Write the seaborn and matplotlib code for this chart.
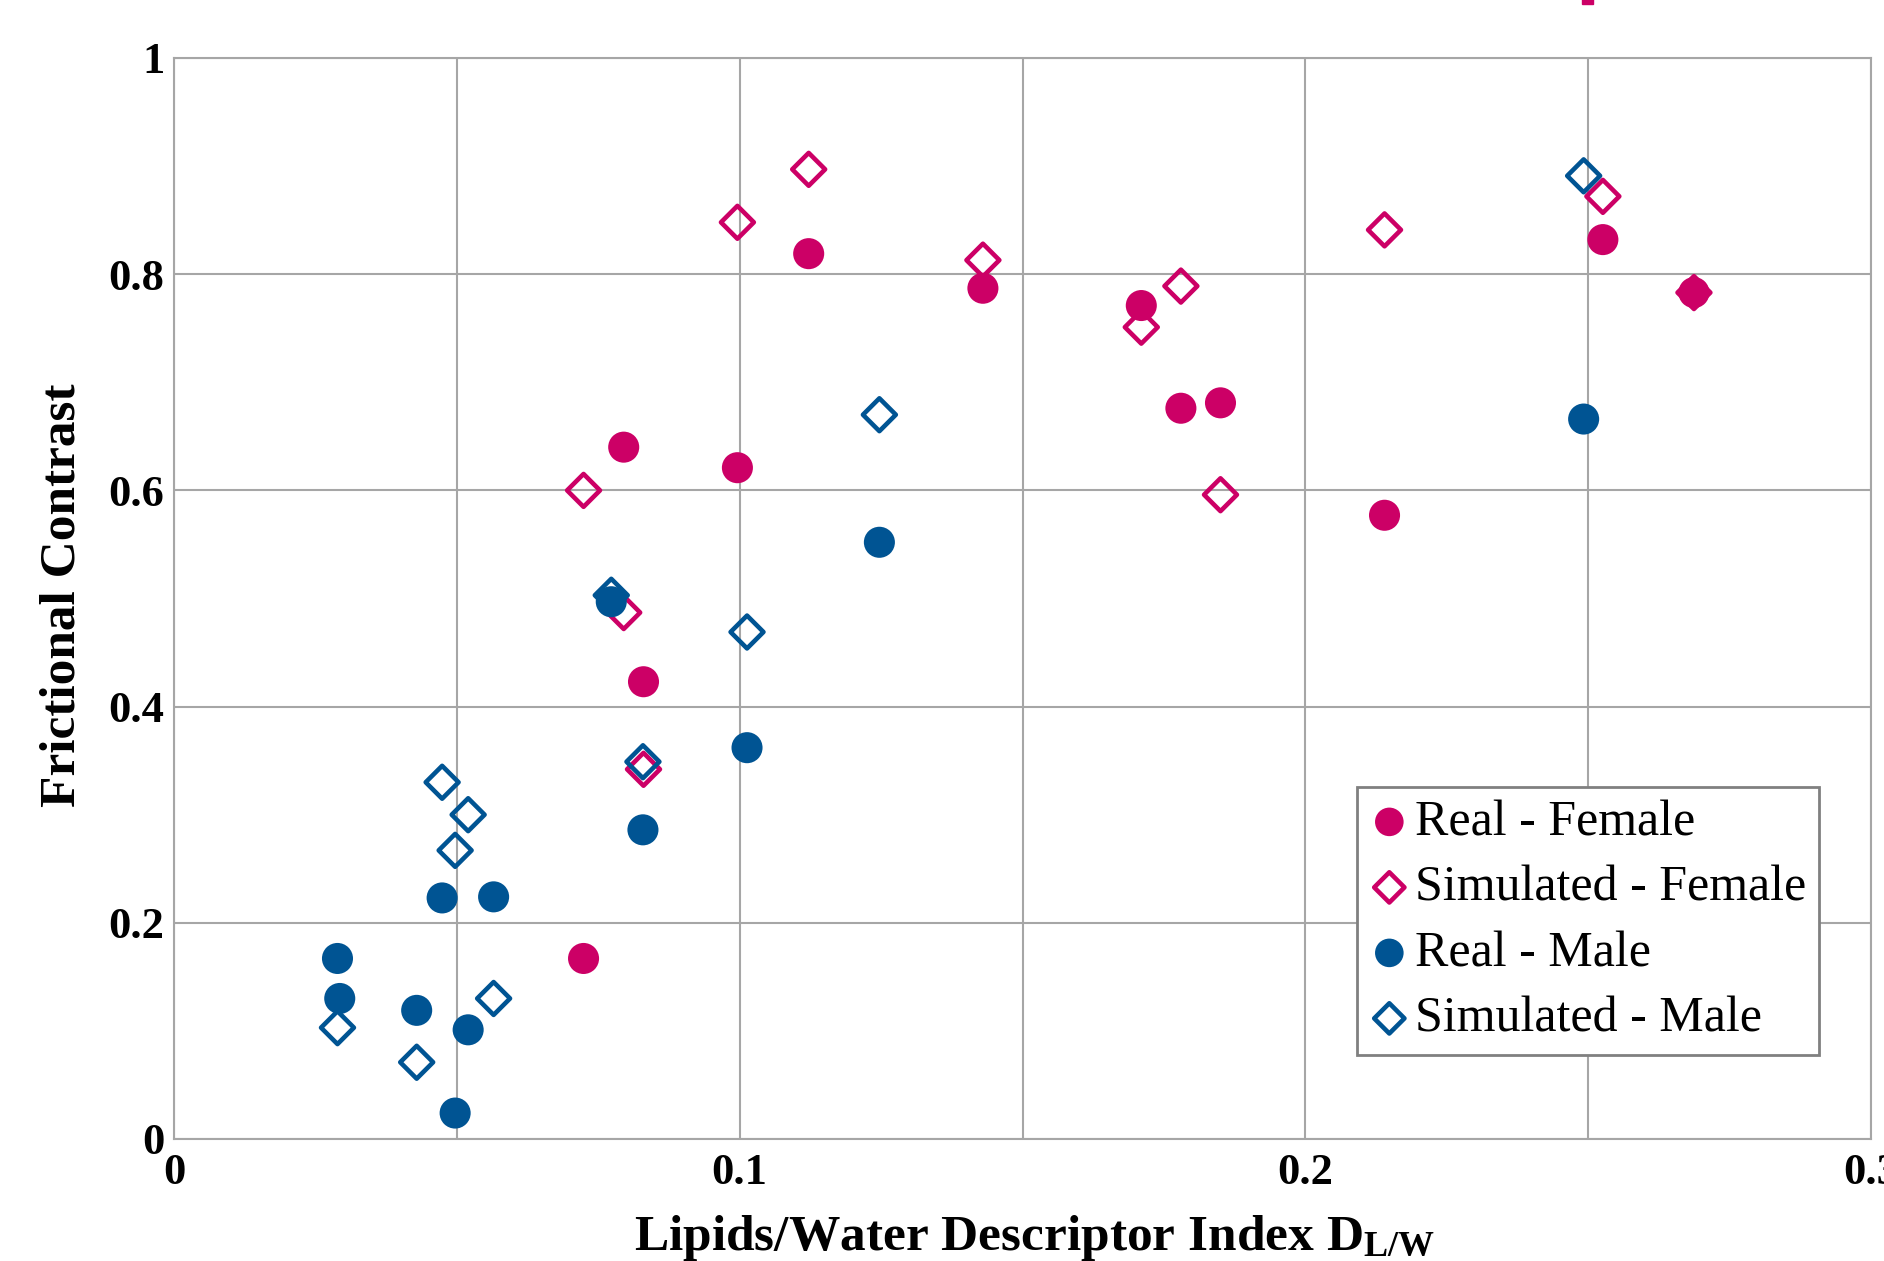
# Frictional contrast vs lipids/water descriptor index, real vs simulated, by sex.
import numpy as np
import pandas as pd
import matplotlib
matplotlib.use("Agg")
import matplotlib.pyplot as plt
from matplotlib.ticker import MultipleLocator, FixedLocator, FixedFormatter
from matplotlib.patches import Rectangle
import seaborn as sns

PINK = "#CC0066"
BLUE = "#005493"
GRID = "#A6A6A6"

# Values.
real_female_x = [0.0724, 0.0795, 0.0996, 0.0830, 0.1122, 0.1430, 0.1710, 0.1780, 0.1850, 0.2140, 0.2526, 0.2687]
real_female_y = [0.167, 0.640, 0.621, 0.423, 0.819, 0.787, 0.771, 0.676, 0.681, 0.577, 0.832, 0.783]

sim_female_x = [0.0724, 0.0795, 0.0830, 0.0996, 0.1122, 0.1430, 0.1710, 0.1780, 0.1850, 0.2140, 0.2526, 0.2687]
sim_female_y = [0.600, 0.487, 0.342, 0.848, 0.897, 0.813, 0.751, 0.789, 0.596, 0.841, 0.872, 0.783]

real_male_x = [0.0289, 0.0293, 0.0429, 0.0474, 0.0497, 0.0520, 0.0565, 0.0773, 0.0829, 0.1013, 0.1247, 0.2492]
real_male_y = [0.167, 0.130, 0.119, 0.223, 0.024, 0.101, 0.224, 0.497, 0.286, 0.362, 0.552, 0.666]

sim_male_x = [0.0289, 0.0429, 0.0474, 0.0497, 0.0520, 0.0565, 0.0773, 0.0829, 0.1013, 0.1247, 0.2492]
sim_male_y = [0.103, 0.071, 0.330, 0.267, 0.300, 0.130, 0.503, 0.349, 0.469, 0.670, 0.891]

x_ticks = [0, 0.1, 0.2, 0.3]
x_tick_labels = ["0", "0.1", "0.2", "0.3"]
y_ticks = [0, 0.2, 0.4, 0.6, 0.8, 1.0]
y_tick_labels = ["0", "0.2", "0.4", "0.6", "0.8", "1"]

sns.set_style("white")
plt.rcParams["font.family"] = ["Liberation Serif", "DejaVu Serif"]
plt.rcParams["text.color"] = "black"
plt.rcParams["axes.labelcolor"] = "black"
plt.rcParams["xtick.color"] = "black"
plt.rcParams["ytick.color"] = "black"
plt.rcParams["mathtext.fontset"] = "custom"
plt.rcParams["mathtext.bf"] = "Liberation Serif:bold"
plt.rcParams["mathtext.rm"] = "Liberation Serif:bold"
plt.rcParams["mathtext.it"] = "Liberation Serif:bold"

fig = plt.figure(figsize=(18.84, 12.61), dpi=100)
ax = fig.add_axes([0.09236, 0.09675, 0.90074, 0.85726])

series = [
    ("Real - Female", real_female_x, real_female_y, PINK, "o"),
    ("Simulated - Female", sim_female_x, sim_female_y, PINK, "D"),
    ("Real - Male", real_male_x, real_male_y, BLUE, "o"),
    ("Simulated - Male", sim_male_x, sim_male_y, BLUE, "D"),
]

for name, xs, ys, col, mk in series:
    df = pd.DataFrame({"x": xs, "y": ys})
    if mk == "o":
        sns.scatterplot(data=df, x="x", y="y", ax=ax, marker="o", s=500,
                        color=col, edgecolor="none", linewidth=0,
                        label=name, zorder=3)
    else:
        sns.scatterplot(data=df, x="x", y="y", ax=ax, marker="D", s=280,
                        color=col, facecolor="none", edgecolor=col,
                        linewidth=3.3, label=name, zorder=3)

ax.set_xlim(0, 0.3)
ax.set_ylim(0, 1)
ax.xaxis.set_major_locator(FixedLocator(x_ticks))
ax.xaxis.set_major_formatter(FixedFormatter(x_tick_labels))
ax.xaxis.set_minor_locator(MultipleLocator(0.05))
ax.yaxis.set_major_locator(FixedLocator(y_ticks))
ax.yaxis.set_major_formatter(FixedFormatter(y_tick_labels))

ax.grid(which="both", axis="x", color=GRID, linewidth=1.5, zorder=0)
ax.grid(which="major", axis="y", color=GRID, linewidth=1.5, zorder=0)
ax.set_axisbelow(True)
for sp in ax.spines.values():
    sp.set_color(GRID)
    sp.set_linewidth(1.5)

ax.tick_params(axis="both", which="both", length=0)
ax.tick_params(axis="x", pad=10, labelsize=32)
ax.tick_params(axis="y", pad=7, labelsize=32)
for lab in ax.get_xticklabels() + ax.get_yticklabels():
    lab.set_fontweight("bold")

ax.set_xlabel(r"Lipids/Water Descriptor Index $\mathbf{D_{L/W}}$",
              fontsize=37, fontweight="bold")
ax.set_ylabel("Frictional Contrast", fontsize=37, fontweight="bold")
ax.xaxis.label.set_va("baseline")
ax.xaxis.set_label_coords(0.507, -0.1025)
ax.yaxis.set_label_coords(-0.052, 0.503)

leg = ax.legend(loc="lower right", bbox_to_anchor=(0.9694, 0.0777),
                borderaxespad=0, frameon=True, fancybox=False,
                edgecolor="#808080", framealpha=1, fontsize=36,
                handlelength=0.8, handletextpad=0.12, borderpad=0.25,
                labelspacing=0.38, markerscale=0.92)
leg.get_frame().set_linewidth(2)
for t in leg.get_texts():
    t.set_color("black")

# small pink mark cut off at the top edge of the original figure
fig.patches.append(Rectangle((0.8397, 0.9968), 0.0058, 0.004,
                             transform=fig.transFigure, color=PINK))

fig.savefig("out.png", dpi=100)
